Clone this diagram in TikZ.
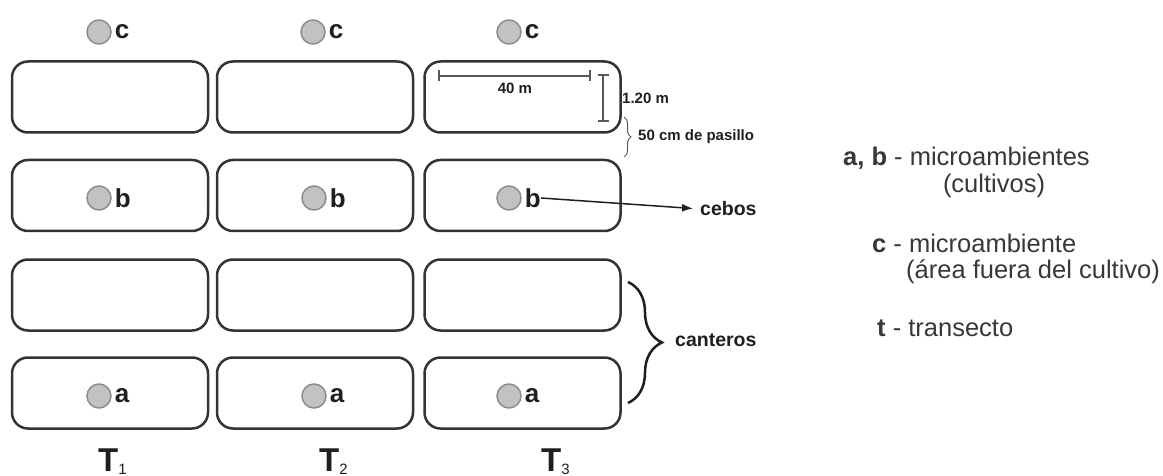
\documentclass[tikz,border=0pt]{standalone}
\usepackage{fontspec}
\setmainfont{Liberation Sans}
\usepackage{tikz}
\usetikzlibrary{arrows.meta,positioning,decorations.pathreplacing}

\begin{document}
\begin{tikzpicture}[x=1pt,y=-1pt,
  cantero/.style={draw=cbed,fill=white,line width=2.5pt,rounded corners=16pt,minimum width=196pt,minimum height=71pt,inner sep=0pt},
  cebo/.style={circle,draw=cbord,fill=cfill,line width=1.5pt,minimum size=24pt,inner sep=0pt},
  letra/.style={font=\fontsize{26}{26}\selectfont\bfseries,text=ctxt,inner sep=0pt},
  tnom/.style={font=\fontsize{33}{33}\selectfont\bfseries,text=ctxt,inner sep=0pt,anchor=base west},
  chico/.style={font=\fontsize{15}{15}\selectfont\bfseries,text=ctxt,inner sep=0pt},
  etiq/.style={font=\fontsize{19.5}{20}\selectfont\bfseries,text=ctxt,inner sep=0pt,anchor=west},
  leyenda/.style={font=\fontsize{25.5}{26}\selectfont,text=cley,inner sep=0pt},
  cota/.style={draw=cdim,line width=2pt,{Bar[width=11pt]}-{Bar[width=11pt]}},
  flecha/.style={draw=ctxt,line width=1.5pt,-{Latex[length=11pt,width=8pt]},shorten >=7pt},
  llave/.style={draw=ctxt,line width=2.5pt,decorate,decoration={brace,amplitude=34pt}},
  llavita/.style={draw=cdim,line width=1pt,decorate,decoration={brace,amplitude=7pt}}]
%
\useasboundingbox (0,0) rectangle (1163,476);
%
\definecolor{cbed}{rgb}{0.2,0.2,0.2}
\definecolor{cbord}{rgb}{0.55,0.55,0.55}
\definecolor{cfill}{rgb}{0.76,0.76,0.76}
\definecolor{ctxt}{rgb}{0.12,0.12,0.12}
\definecolor{cley}{rgb}{0.22,0.22,0.22}
\definecolor{cdim}{rgb}{0.35,0.35,0.35}
%
% canteros (fila, columna)
\node[cantero] (k11) at (110,97) {};
\node[cantero] (k12) at (315,97) {};
\node[cantero] (k13) at (522.5,97) {};
\node[cantero] (k21) at (110,195.5) {};
\node[cantero] (k22) at (315,195.5) {};
\node[cantero] (k23) at (522.5,195.5) {};
\node[cantero] (k31) at (110,295) {};
\node[cantero] (k32) at (315,295) {};
\node[cantero] (k33) at (522.5,295) {};
\node[cantero] (k41) at (110,393) {};
\node[cantero] (k42) at (315,393) {};
\node[cantero] (k43) at (522.5,393) {};
%
% cebos c, b, a
\node[cebo] (mc1) at (99,32) {};
\node[cebo] (mc2) at (313,32) {};
\node[cebo] (mc3) at (509,32) {};
\node[letra,right=3pt of mc1] (lc1) {c};
\node[letra,right=3pt of mc2] (lc2) {c};
\node[letra,right=3pt of mc3] (lc3) {c};
\node[cebo] (mb1) at (99,198) {};
\node[cebo] (mb2) at (314,198) {};
\node[cebo] (mb3) at (509,198) {};
\node[letra,right=3pt of mb1] (lb1) {b};
\node[letra,right=3pt of mb2] (lb2) {b};
\node[letra,right=3pt of mb3] (lb3) {b};
\node[cebo] (ma1) at (99,396) {};
\node[cebo] (ma2) at (314,396) {};
\node[cebo] (ma3) at (509,396) {};
\node[letra,right=3pt of ma1] (la1) {a};
\node[letra,right=3pt of ma2] (la2) {a};
\node[letra,right=3pt of ma3] (la3) {a};
%
% transectos
\node[tnom] (t1) at (98,471) {T\raisebox{-3pt}{\fontsize{15}{15}\mdseries\selectfont 1}};
\node[tnom] (t2) at (319,471) {T\raisebox{-3pt}{\fontsize{15}{15}\mdseries\selectfont 2}};
\node[tnom] (t3) at (541,471) {T\raisebox{-3pt}{\fontsize{15}{15}\mdseries\selectfont 3}};
%
% medidas
\coordinate (d40a) at (438,76);
\coordinate (d40b) at (591,76);
\draw[cota] (d40a) -- (d40b);
\node[chico] (l40) at (515,88) {40 m};
\coordinate (d120a) at (603,74);
\coordinate (d120b) at (603,122);
\draw[cota] (d120a) -- (d120b);
\node[chico,anchor=west] (l120) at (622,98) {1.20 m};
\coordinate (pa) at (624,117);
\coordinate (pb) at (624,157);
\draw[llavita] (pa) -- (pb);
\node[chico,anchor=west] (lpas) at (638,137) {50 cm de pasillo};
%
\node[etiq] (cebos) at (700,209) {cebos};
\draw[flecha] (lb3.east) -- (cebos.west);
%
\coordinate (ka) at (628,282);
\coordinate (kb) at (628,403);
\draw[llave] (ka) -- (kb);
\node[etiq] (cant) at (675,340) {canteros};
%
% leyenda
\node[leyenda,anchor=west] (ley1) at (843,158) {\textbf{a, b} - microambientes};
\node[leyenda] (ley2) at (994,186) {(cultivos)};
\node[leyenda,anchor=west] (ley3) at (872,243) {\textbf{c} - microambiente};
\node[leyenda,anchor=west] (ley4) at (906,272) {(área fuera del cultivo)};
\node[leyenda,anchor=west] (ley5) at (877,328) {\textbf{t} - transecto};
%
\end{tikzpicture}
\end{document}
